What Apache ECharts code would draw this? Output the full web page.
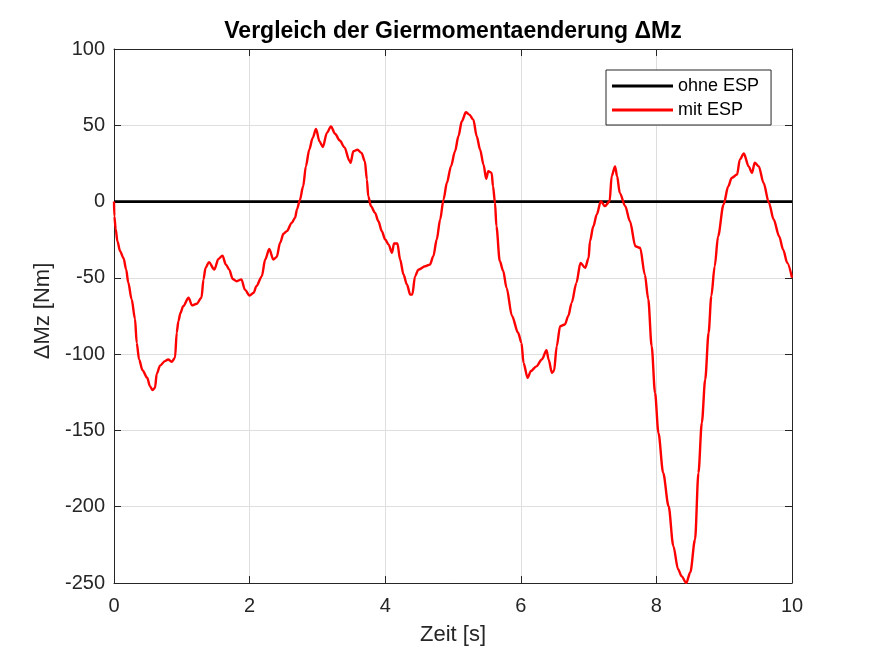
<!DOCTYPE html>
<html>
<head>
<meta charset="utf-8">
<script src="https://cdn.jsdelivr.net/npm/echarts@6/dist/echarts.min.js"></script>
<style>
  html, body { margin: 0; padding: 0; background: #fff; }
  #chart { width: 875px; height: 656px; }
</style>
</head>
<body>
<div id="chart"></div>
<script>
// Zeitachse [s] und Giermomentaenderung [Nm]
const zeit = [
  0, 0.005, 0.025, 0.05, 0.09, 0.14, 0.18, 0.21, 0.26, 0.31,
  0.335, 0.37, 0.42, 0.49, 0.53, 0.57, 0.605, 0.63, 0.68, 0.75,
  0.80, 0.85, 0.90, 0.925, 0.95, 0.98, 1.02, 1.10, 1.15, 1.22,
  1.29, 1.32, 1.35, 1.40, 1.48, 1.54, 1.60, 1.65, 1.70, 1.75,
  1.81, 1.88, 1.93, 2.00, 2.06, 2.10, 2.18, 2.23, 2.29, 2.35,
  2.40, 2.45, 2.50, 2.55, 2.62, 2.67, 2.70, 2.74, 2.79, 2.83,
  2.88, 2.93, 2.98, 3.03, 3.08, 3.14, 3.20, 3.26, 3.33, 3.40,
  3.47, 3.49, 3.53, 3.59, 3.65, 3.70, 3.73, 3.75, 3.79, 3.85,
  3.90, 3.95, 4.00, 4.05, 4.10, 4.13, 4.18, 4.22, 4.27, 4.32,
  4.37, 4.40, 4.44, 4.49, 4.59, 4.66, 4.71, 4.76, 4.81, 4.86,
  4.91, 4.97, 5.03, 5.08, 5.13, 5.19, 5.24, 5.30, 5.35, 5.40,
  5.45, 5.49, 5.52, 5.57, 5.59, 5.62, 5.64, 5.69, 5.74, 5.79,
  5.87, 5.96, 6.01, 6.04, 6.10, 6.15, 6.23, 6.31, 6.38, 6.41,
  6.46, 6.49, 6.53, 6.58, 6.65, 6.70, 6.75, 6.82, 6.88, 6.95,
  7.00, 7.02, 7.07, 7.12, 7.18, 7.24, 7.31, 7.34, 7.39, 7.42,
  7.46, 7.54, 7.61, 7.69, 7.76, 7.83, 7.88, 7.93, 7.98, 8.03,
  8.10, 8.18, 8.25, 8.32, 8.37, 8.44, 8.50, 8.57, 8.62, 8.67,
  8.72, 8.77, 8.81, 8.86, 8.91, 8.99, 9.06, 9.11, 9.19, 9.23,
  9.29, 9.36, 9.41, 9.45, 9.51, 9.58, 9.66, 9.73, 9.81, 9.87,
  9.93, 10.0
];
const mitEsp = [
  0, -9.6, -18, -26, -32.5, -37, -44.6, -53, -64, -77,
  -92.6, -103.5, -110.5, -115.5, -121, -123.6, -122, -113, -107.5, -104.6,
  -103.5, -105, -102.4, -86, -78.4, -73, -68.6, -63, -68, -67,
  -63, -51, -43.5, -39.7, -44.6, -37.6, -35.4, -41.3, -44.6, -50.7,
  -52.2, -51, -57.7, -61.6, -59.8, -55.5, -49, -38, -31, -38,
  -36.3, -27, -21, -19.4, -14, -10.7, -5, 0.8, 10, 23.1,
  34, 41.7, 47.6, 39.5, 35.8, 45, 49.3, 44.5, 40, 35.5,
  27, 25.4, 33, 34, 31.9, 26.4, 14.4, 3.5, -3, -7.4,
  -12.9, -19.4, -24.9, -28.2, -33.6, -27.5, -27.5, -38, -47.8, -54.4,
  -61, -61, -49, -44.6, -42.4, -41.3, -35.8, -24.9, -11.8, 1.3,
  12.3, 23.1, 33, 42.8, 52.6, 58.5, 57, 53.7, 42.8, 34,
  24.2, 14.9, 19.9, 18.8, 10, -0.9, -16.2, -39, -45.5, -56.5,
  -75, -86, -92.6, -105.7, -115.5, -111, -108, -103.5, -97.4, -103.5,
  -112.3, -111, -94.8, -81.7, -80.6, -75, -66.4, -53.3, -40.2, -43.4,
  -37, -26, -16.2, -8.5, 0.2, -3, 0.2, 16.6, 23.1, 16.6,
  5.7, -3, -12.9, -29.3, -30.3, -48, -64, -94.8, -125.4, -151.6,
  -177.8, -199.7, -225.9, -241, -245.5, -250, -243, -221.5, -177.8, -145,
  -116.6, -86, -62, -42.4, -22.7, -2, 10, 15.5, 17.7, 27.5,
  31.5, 23.1, 18.8, 25.4, 23.1, 12.3, -0.9, -11.8, -22.7, -31.5,
  -40.2, -50
];
const ohneZeit = [0, 10];
const ohneEsp = [0, 0];

const xTicks = { min: 0, max: 10, interval: 2 };
const yTicks = { min: -250, max: 100, interval: 50 };

const FONT = '"Liberation Sans", Arial, Helvetica, sans-serif';
const AX = '#262626';

const chart = echarts.init(document.getElementById('chart'), null, { renderer: 'canvas' });

function baseAxis(pos, withLabels) {
  return {
    type: 'value',
    position: pos,
    axisLine: { show: true, onZero: false, lineStyle: { color: AX, width: 1 } },
    axisTick: { show: true, inside: true, length: 7, lineStyle: { color: AX, width: 1 } },
    axisLabel: { show: withLabels, color: AX, fontSize: 20, fontFamily: FONT },
    splitLine: { show: withLabels, lineStyle: { color: '#dedede', width: 1 } }
  };
}

const option = {
  animation: false,
  backgroundColor: '#fff',
  title: {
    text: 'Vergleich der Giermomentaenderung ΔMz',
    left: 453,
    top: 20,
    textAlign: 'center',
    padding: 0,
    textStyle: { color: '#000', fontSize: 23, fontWeight: 'bold', fontFamily: FONT }
  },
  legend: {
    orient: 'vertical',
    left: 606,
    top: 70,
    icon: 'rect',
    itemWidth: 61,
    itemHeight: 3,
    itemGap: 6,
    padding: [7, 12, 6, 6],
    borderColor: AX,
    borderWidth: 1,
    backgroundColor: '#fff',
    textStyle: { color: '#000', fontSize: 18, lineHeight: 17, fontFamily: FONT },
    data: ['ohne ESP', 'mit ESP']
  },
  grid: { left: 114, right: 83, top: 49, bottom: 73 },
  xAxis: [
    Object.assign(baseAxis('bottom', true), {
      min: xTicks.min, max: xTicks.max, interval: xTicks.interval,
      name: 'Zeit [s]', nameLocation: 'middle', nameGap: 41,
      nameTextStyle: { color: AX, fontSize: 22, fontFamily: FONT },
      axisLabel: { color: AX, fontSize: 20, fontFamily: FONT, margin: 13 }
    }),
    Object.assign(baseAxis('top', false), {
      min: xTicks.min, max: xTicks.max, interval: xTicks.interval
    })
  ],
  yAxis: [
    Object.assign(baseAxis('left', true), {
      min: yTicks.min, max: yTicks.max, interval: yTicks.interval,
      name: 'ΔMz [Nm]', nameLocation: 'middle', nameGap: 56,
      nameTextStyle: { color: AX, fontSize: 22, fontFamily: FONT, padding: [0, 0, 0, 10] },
      axisLabel: { color: AX, fontSize: 20, fontFamily: FONT, margin: 9 }
    }),
    Object.assign(baseAxis('right', false), {
      min: yTicks.min, max: yTicks.max, interval: yTicks.interval
    })
  ],
  series: [
    {
      name: 'ohne ESP',
      type: 'line',
      xAxisIndex: 0,
      yAxisIndex: 0,
      showSymbol: false,
      lineStyle: { color: '#000', width: 2.7 },
      itemStyle: { color: '#000' },
      data: ohneZeit.map((t, i) => [t, ohneEsp[i]])
    },
    {
      name: 'mit ESP',
      type: 'line',
      xAxisIndex: 0,
      yAxisIndex: 0,
      showSymbol: false,
      smooth: 0.3,
      smoothMonotone: 'x',
      lineStyle: { color: '#ff0000', width: 2.4 },
      itemStyle: { color: '#ff0000' },
      data: zeit.map((t, i) => [t, mitEsp[i]])
    }
  ]
};

chart.setOption(option);
</script>
</body>
</html>
